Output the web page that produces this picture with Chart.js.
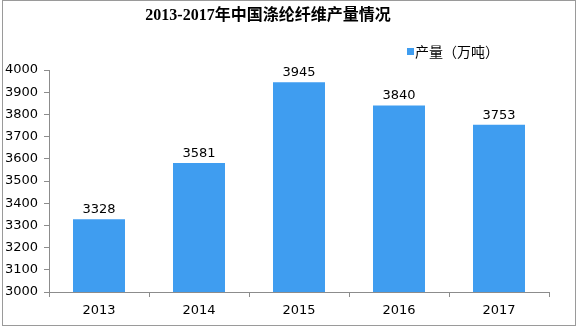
<!DOCTYPE html>
<html><head><meta charset="utf-8">
<script src="https://cdn.jsdelivr.net/npm/chart.js@4"></script>
<style>html,body{margin:0;padding:0;background:#fff}canvas{display:block}</style>
</head><body>
<canvas id="c" width="578" height="328"></canvas>
<script>
const categories = ['2013','2014','2015','2016','2017'];
const production = [3328, 3581, 3945, 3840, 3753];
const yTicks = [3000,3100,3200,3300,3400,3500,3600,3700,3800,3900,4000];
const titleText = '2013-2017年中国涤纶纤维产量情况';
const seriesName = '产量（万吨）';

const barColor = '#3f9df0';
const axisColor = '#8c8c8c';
const tickFont = {family: "'DejaVu Sans', sans-serif", size: 13};

const deco = {
  id: 'deco',
  afterDraw(chart) {
    const ctx = chart.ctx;
    ctx.save();
    ctx.strokeStyle = '#9a9a9a';
    ctx.lineWidth = 1;
    ctx.strokeRect(2.5, 0.5, 573, 325);
    ctx.fillStyle = '#000';
    ctx.font = "bold 16px 'Liberation Serif', 'Noto Sans CJK SC', serif";
    ctx.textAlign = 'center';
    ctx.textBaseline = 'middle';
    ctx.fillText(titleText, 268, 16);
    ctx.fillStyle = barColor;
    ctx.fillRect(407, 48, 7, 7);
    ctx.fillStyle = '#000';
    ctx.font = "14px 'Noto Sans CJK SC', sans-serif";
    ctx.textAlign = 'left';
    ctx.fillText(seriesName, 415, 52);
    const meta = chart.getDatasetMeta(0);
    ctx.font = "13px 'DejaVu Sans', sans-serif";
    ctx.textAlign = 'center';
    ctx.textBaseline = 'bottom';
    meta.data.forEach((bar, i) => {
      ctx.fillText(String(production[i]), bar.x, bar.y - 3);
    });
    ctx.restore();
  }
};

new Chart(document.getElementById('c'), {
  type: 'bar',
  data: {
    labels: categories,
    datasets: [{
      label: seriesName,
      data: production,
      backgroundColor: barColor,
      barPercentage: 0.52,
      categoryPercentage: 1.0
    }]
  },
  options: {
    responsive: false,
    animation: false,
    devicePixelRatio: 1,
    layout: {padding: {left: 0, right: 29, top: 70, bottom: 0}},
    plugins: {legend: {display: false}, title: {display: false}, tooltip: {enabled: false}},
    scales: {
      x: {
        offset: true,
        grid: {display: true, drawOnChartArea: false, offset: true, color: axisColor, tickLength: 5},
        border: {display: true, color: axisColor},
        ticks: {color: '#000', font: tickFont, padding: 6},
        afterFit(s) { s.height = 36; }
      },
      y: {
        min: 3000, max: 4000,
        afterBuildTicks(s) { s.ticks = yTicks.map(v => ({value: v})); },
        grid: {display: true, drawOnChartArea: false, color: axisColor, tickLength: 5},
        border: {display: true, color: axisColor},
        ticks: {color: '#000', font: tickFont, padding: 6, callback: v => String(v)},
        afterFit(s) { s.width = 49; }
      }
    }
  },
  plugins: [deco]
});
</script>
</body></html>
